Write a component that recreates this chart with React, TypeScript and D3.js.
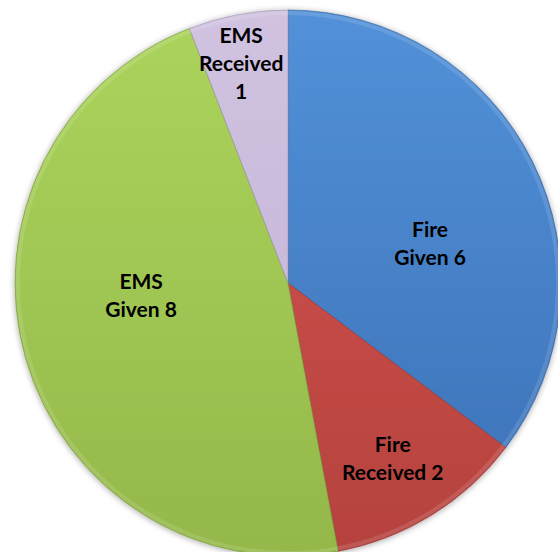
import React, { useEffect, useRef } from 'react';
import * as d3 from 'd3';

// chart values
const categories = ['Fire Given', 'Fire Received', 'EMS Given', 'EMS Received'];
const values = [6, 2, 8, 1];
const labelLines = [['Fire', 'Given 6'], ['Fire', 'Received 2'], ['EMS', 'Given 8'], ['EMS', 'Received', '1']];

// look
const topColors = ['#5291d9', '#d6554f', '#acd45c', '#d0c2e0'];
const bottomColors = ['#3b70b6', '#b5423e', '#94b84a', '#c2b2d6'];
// where excel's "best fit" put each label: [distance as part of radius, turn in degrees]
const labelSpots: [number, number][] = [
  [0.54, 11],
  [0.75, 1],
  [0.54, 11],
  [0.82, -1.5],
];

const W = 558;
const H = 552;

const App = () => {
  const svgRef = useRef<SVGSVGElement>(null);

  useEffect(() => {
    const svg = d3.select(svgRef.current);
    svg.selectAll('*').remove();

    const cx = 288;
    const cy = 283;
    const r = 273;

    const defs = svg.append('defs');

    const shadow = defs.append('filter').attr('id', 'shade').attr('x', '-10%').attr('y', '-10%').attr('width', '120%').attr('height', '120%');
    shadow.append('feGaussianBlur').attr('in', 'SourceAlpha').attr('stdDeviation', 3);
    shadow.append('feOffset').attr('dx', 0).attr('dy', 1).attr('result', 'b');
    shadow.append('feComponentTransfer').append('feFuncA').attr('type', 'linear').attr('slope', 0.35);
    const merge = shadow.append('feMerge');
    merge.append('feMergeNode');
    merge.append('feMergeNode').attr('in', 'SourceGraphic');

    categories.forEach((c, i) => {
      const g = defs
        .append('linearGradient')
        .attr('id', `grad${i}`)
        .attr('gradientUnits', 'userSpaceOnUse')
        .attr('x1', 0)
        .attr('y1', -r)
        .attr('x2', 0)
        .attr('y2', r);
      g.append('stop').attr('offset', '0%').attr('stop-color', topColors[i]);
      g.append('stop').attr('offset', '100%').attr('stop-color', bottomColors[i]);
    });

    const pie = d3
      .pie<number>()
      .sort(null)
      .value((d) => d);
    const arcs = pie(values);
    const arc = d3.arc<d3.PieArcDatum<number>>().innerRadius(0).outerRadius(r);
    const rim = d3.arc<d3.PieArcDatum<number>>().innerRadius(r - 5).outerRadius(r - 1);

    const root = svg.append('g').attr('transform', `translate(${cx},${cy})`);

    const pieG = root.append('g').attr('filter', 'url(#shade)');

    pieG
      .selectAll('path.slice')
      .data(arcs)
      .enter()
      .append('path')
      .attr('class', 'slice')
      .attr('d', arc)
      .attr('fill', (d, i) => `url(#grad${i})`)
      .attr('stroke', (d, i) => d3.color(bottomColors[i])!.darker(0.6).formatHex())
      .attr('stroke-opacity', 0.6)
      .attr('stroke-width', 1);

    // bevel light along the rim
    root
      .selectAll('path.rim')
      .data(arcs)
      .enter()
      .append('path')
      .attr('class', 'rim')
      .attr('d', rim)
      .attr('fill', '#ffffff')
      .attr('opacity', 0.12);

    // labels
    arcs.forEach((a, i) => {
      const [frac, turn] = labelSpots[i];
      const ang = (a.startAngle + a.endAngle) / 2 + (turn * Math.PI) / 180;
      const x = Math.sin(ang) * r * frac;
      const y = -Math.cos(ang) * r * frac;
      const lines = labelLines[i];
      const lh = 28;
      const t = root
        .append('text')
        .attr('x', x)
        .attr('y', y - ((lines.length - 1) * lh) / 2)
        .attr('text-anchor', 'middle')
        .attr('font-family', 'Lato, "Open Sans", sans-serif')
        .attr('font-weight', 700)
        .attr('font-size', 21)
        .attr('fill', '#000');
      lines.forEach((l, j) => {
        t.append('tspan')
          .attr('x', x)
          .attr('dy', j === 0 ? '0.35em' : lh)
          .text(l);
      });
    });
  }, []);

  return (
    <svg
      ref={svgRef}
      width={W}
      height={H}
      style={{ position: 'absolute', left: 0, top: 0, background: '#fff' }}
    />
  );
};

export default App;
